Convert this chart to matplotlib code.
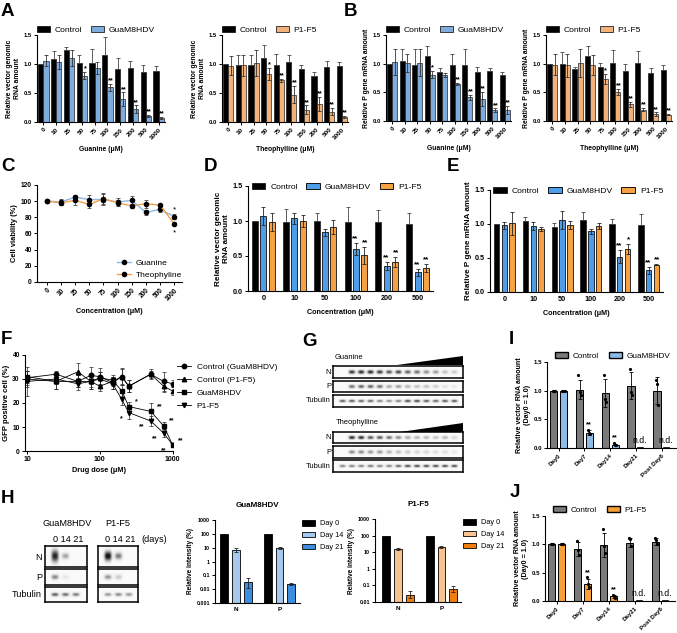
import numpy as np
import matplotlib
matplotlib.use('Agg')
import matplotlib.pyplot as plt
from matplotlib.patches import Patch
from matplotlib.lines import Line2D
from matplotlib.ticker import NullLocator

plt.rcParams['font.family'] = ['Liberation Sans', 'DejaVu Sans']
plt.rcParams['axes.linewidth'] = 0.8
plt.rcParams['xtick.major.width'] = 0.7
plt.rcParams['ytick.major.width'] = 0.7
plt.rcParams['xtick.major.size'] = 2.5
plt.rcParams['ytick.major.size'] = 2.5
plt.rcParams['xtick.major.pad'] = 1.2
plt.rcParams['ytick.major.pad'] = 1.2

# ---------------- data ----------------
conc_ab = ['0', '10', '25', '50', '75', '100', '150', '200', '500', '1000']

# A: vector genomic RNA
a_gua_ctrl = [1.00, 1.08, 1.25, 1.01, 1.02, 1.16, 0.92, 0.93, 0.87, 0.88]
a_gua_ctrl_e = [0.00, 0.14, 0.05, 0.15, 0.24, 0.30, 0.18, 0.12, 0.12, 0.09]
a_gua_trt = [1.06, 1.03, 1.10, 0.80, 0.93, 0.60, 0.39, 0.22, 0.10, 0.07]
a_gua_trt_e = [0.10, 0.12, 0.14, 0.06, 0.10, 0.06, 0.12, 0.07, 0.02, 0.02]
a_gua_stars = ['', '', '', '*', '', '**', '**', '**', '**', '**']

a_theo_ctrl = [1.00, 0.98, 0.99, 1.11, 0.98, 1.04, 0.91, 0.80, 0.95, 0.96]
a_theo_ctrl_e = [0.00, 0.18, 0.16, 0.21, 0.20, 0.12, 0.07, 0.06, 0.10, 0.07]
a_theo_trt = [0.97, 0.98, 1.02, 0.83, 0.72, 0.47, 0.21, 0.31, 0.18, 0.09]
a_theo_trt_e = [0.16, 0.18, 0.22, 0.10, 0.03, 0.15, 0.08, 0.12, 0.06, 0.02]
a_theo_stars = ['', '', '', '*', '**', '**', '**', '**', '**', '**']

# B: P gene mRNA
b_gua_ctrl = [1.00, 1.05, 0.98, 1.14, 0.86, 0.98, 0.98, 0.85, 0.87, 0.80]
b_gua_ctrl_e = [0.00, 0.20, 0.27, 0.16, 0.07, 0.18, 0.27, 0.10, 0.06, 0.05]
b_gua_trt = [1.03, 1.01, 1.02, 0.81, 0.80, 0.64, 0.41, 0.39, 0.19, 0.19]
b_gua_trt_e = [0.22, 0.15, 0.23, 0.06, 0.03, 0.02, 0.05, 0.12, 0.03, 0.07]
b_gua_stars = ['', '', '', '*', '', '**', '**', '**', '**', '**']

b_theo_ctrl = [1.00, 1.00, 0.90, 1.13, 0.95, 1.01, 0.88, 1.01, 0.83, 0.89]
b_theo_ctrl_e = [0.00, 0.20, 0.05, 0.17, 0.07, 0.22, 0.12, 0.21, 0.10, 0.08]
b_theo_trt = [0.98, 0.97, 1.01, 0.98, 0.73, 0.51, 0.29, 0.20, 0.12, 0.11]
b_theo_trt_e = [0.18, 0.20, 0.24, 0.17, 0.09, 0.05, 0.05, 0.03, 0.03, 0.01]
b_theo_stars = ['', '', '', '', '*', '**', '**', '**', '**', '**']

# C: cell viability
c_gua = [100, 99, 105, 102, 102, 99, 101, 86, 90, 81]
c_gua_e = [0, 4, 3, 6, 7, 5, 5, 3, 3, 3]
c_theo = [100, 98, 101, 96, 103, 98, 94, 97, 95, 72]
c_theo_e = [0, 3, 6, 5, 7, 4, 3, 5, 2, 2]
c_gua_stars = [''] * 9 + ['*']
c_theo_stars = [''] * 9 + ['*']

# D / E
conc_de = ['0', '10', '50', '100', '200', '500']
d_ctrl = [1.00, 0.98, 1.00, 0.99, 0.98, 0.96]
d_ctrl_e = [0.00, 0.19, 0.11, 0.21, 0.17, 0.16]
d_gua = [1.07, 1.04, 0.84, 0.60, 0.36, 0.27]
d_gua_e = [0.13, 0.08, 0.05, 0.09, 0.06, 0.05]
d_p1 = [0.99, 1.00, 0.92, 0.51, 0.41, 0.33]
d_p1_e = [0.13, 0.08, 0.10, 0.12, 0.07, 0.06]
d_gua_stars = ['', '', '', '**', '**', '**']
d_p1_stars = ['', '', '', '**', '**', '**']

e_ctrl = [1.00, 1.04, 0.96, 1.06, 1.00, 0.99]
e_ctrl_e = [0.00, 0.06, 0.06, 0.12, 0.08, 0.15]
e_gua = [0.98, 0.97, 1.06, 0.89, 0.52, 0.32]
e_gua_e = [0.05, 0.06, 0.13, 0.04, 0.10, 0.05]
e_p1 = [1.01, 0.93, 0.99, 0.97, 0.63, 0.40]
e_p1_e = [0.17, 0.03, 0.06, 0.05, 0.07, 0.01]
e_gua_stars = ['', '', '', '', '**', '**']
e_p1_stars = ['', '', '', '', '*', '**']

# F: GFP positive cells vs dose
f_dose = [10, 25, 50, 75, 100, 150, 200, 250, 500, 750, 1000]
f_ctrl_gua = [30.5, 32.0, 29.0, 31.5, 31.0, 28.5, 31.0, 27.0, 32.0, 29.0, 28.0]
f_ctrl_gua_e = [3.0, 1.5, 2.5, 3.5, 3.5, 2.5, 3.5, 2.5, 2.0, 4.0, 1.5]
f_ctrl_p1 = [30.0, 29.0, 33.0, 29.0, 27.0, 29.0, 31.0, 27.0, 32.0, 27.0, 25.0]
f_ctrl_p1_e = [3.5, 3.0, 3.5, 3.0, 2.0, 2.0, 3.0, 2.5, 1.5, 2.5, 1.5]
f_gua = [31.0, 29.0, 29.0, 29.0, 30.5, 29.5, 25.0, 18.5, 16.5, 10.5, 2.5]
f_gua_e = [2.5, 3.0, 2.5, 2.5, 2.5, 2.0, 2.5, 2.0, 3.5, 1.5, 1.0]
f_p1 = [29.0, 30.0, 28.0, 29.0, 30.0, 28.0, 21.5, 16.0, 12.5, 7.5, 2.5]
f_p1_e = [6.0, 2.0, 2.5, 3.0, 3.0, 2.0, 2.5, 2.5, 2.0, 1.5, 1.0]
f_gua_stars = [''] * 7 + ['*', '**', '**', '**']
f_p1_stars = [''] * 7 + ['*', '**', '**', '**']

# G: western blot band intensities (13 lanes, mock first)
g_gua_N = [0.0, 0.85, 0.9, 0.9, 0.85, 0.75, 0.8, 0.7, 0.65, 0.55, 0.5, 0.35, 0.3]
g_gua_P = [0.0, 0.65, 0.7, 0.7, 0.65, 0.45, 0.5, 0.4, 0.35, 0.35, 0.3, 0.2, 0.15]
g_gua_T = [0.75, 0.75, 0.7, 0.7, 0.6, 0.55, 0.6, 0.8, 0.8, 0.75, 0.7, 0.75, 0.75]
g_theo_N = [0.0, 0.9, 0.9, 0.75, 0.75, 0.65, 0.55, 0.45, 0.4, 0.4, 0.35, 0.4, 0.25]
g_theo_P = [0.0, 0.55, 0.55, 0.5, 0.5, 0.4, 0.35, 0.3, 0.25, 0.25, 0.2, 0.2, 0.15]
g_theo_T = [0.6, 0.6, 0.6, 0.65, 0.6, 0.6, 0.7, 0.8, 0.8, 0.8, 0.8, 0.8, 0.8]

# H: blots (days 0, 14, 21) and quantification
h_days = '0 14 21'
h_gua_N = [0.9, 0.45, 0.0]
h_gua_P = [0.55, 0.15, 0.0]
h_gua_T = [0.7, 0.65, 0.6]
h_p1_N = [1.0, 0.6, 0.0]
h_p1_P = [0.5, 0.3, 0.0]
h_p1_T = [0.5, 0.55, 0.5]

h_targets = ['N', 'P']
h_day_labels = ['Day 0', 'Day 14', 'Day 21']
hq_gua = {'Day 0': [100, 100], 'Day 14': [6.8, 9.5], 'Day 21': [0.035, 0.022]}
hq_gua_lo = {'Day 0': [0, 0], 'Day 14': [1.8, 2.0], 'Day 21': [0.023, 0.003]}
hq_gua_hi = {'Day 0': [0, 0], 'Day 14': [2.5, 2.5], 'Day 21': [0.03, 0.004]}
hq_p1 = {'Day 0': [100, 100], 'Day 14': [16, 21], 'Day 21': [0.028, 0.06]}
hq_p1_lo = {'Day 0': [0, 0], 'Day 14': [2.5, 3.0], 'Day 21': [0.01, 0.02]}
hq_p1_hi = {'Day 0': [0, 0], 'Day 14': [3.0, 4.0], 'Day 21': [0.015, 0.035]}

# I / J: time course
ij_days = ['Day0', 'Day7', 'Day14', 'Day21', 'Post Day6']
i_ctrl = [1.00, 1.02, 0.96, 1.09, 1.00]
i_ctrl_e = [0.00, 0.17, 0.24, 0.23, 0.24]
i_ctrl_pts = [[1.0, 1.0, 1.0], [1.28, 0.97, 0.93], [1.27, 0.85, 0.80],
              [1.38, 0.97, 0.93], [1.18, 1.12, 0.75]]
i_trt = [1.00, 0.27, 0.06, 0.0, 0.0]
i_trt_e = [0.00, 0.04, 0.015, 0.0, 0.0]
i_trt_pts = [[1.0, 1.0, 1.0], [0.32, 0.27, 0.24], [0.08, 0.06, 0.05],
             [0.0, 0.0, 0.0], [0.0, 0.0, 0.0]]
i_stars = ['', '**', '**', '', '']
i_nd = ['', '', '', 'n.d.', 'n.d.']

j_ctrl = [1.00, 0.92, 0.99, 1.03, 1.05]
j_ctrl_e = [0.00, 0.12, 0.21, 0.08, 0.07]
j_ctrl_pts = [[1.0, 1.0, 1.0], [1.06, 0.90, 0.81], [1.27, 0.97, 0.85],
              [1.11, 1.10, 0.97], [1.12, 1.08, 1.00]]
j_trt = [1.00, 0.30, 0.08, 0.0, 0.0]
j_trt_e = [0.00, 0.09, 0.02, 0.0, 0.0]
j_trt_pts = [[1.0, 1.0, 1.0], [0.42, 0.30, 0.25], [0.10, 0.08, 0.06],
             [0.0, 0.0, 0.0], [0.0, 0.0, 0.0]]
j_stars = ['', '**', '**', '', '']
j_nd = ['', '', '', 'n.d.', 'n.d.']

# ---------------- colours ----------------
BLUE_AB = '#7EACDD'
ORANGE_AB = '#F2B27A'
BLUE_DE = '#4E9DE8'
ORANGE_DE = '#F6A244'
BLUE_C = '#8DB8E8'
ORANGE_C = '#F4A04A'
BLUE_I = '#8EBCEA'
ORANGE_J = '#F7A038'
GRAY = '#7A7A7A'
BLUE_D14, BLUE_D21 = '#A6C9F0', '#3D8EE0'
OR_D14, OR_D21 = '#F9C391', '#F07D0C'

W, H = 677, 633
fig = plt.figure(figsize=(W / 100, H / 100), dpi=100)


def px_axes(l, t, r, b):
    return fig.add_axes([l / W, 1 - b / H, (r - l) / W, (b - t) / H])


def prism(ax):
    ax.spines['top'].set_visible(False)
    ax.spines['right'].set_visible(False)


def letter(x, y, s):
    fig.text(x / W, 1 - y / H, s, fontsize=13.5, fontweight='bold', ha='left', va='top')


def ftext(x, y, s, **kw):
    fig.text(x / W, 1 - y / H, s, **kw)


def ebar(ax, x, y, e, lower=True, lw=0.6, cs=1.3, col='#222222'):
    e = np.asarray(e)
    yerr = [e, e] if lower else [np.zeros_like(e), e]
    ax.errorbar(x, y, yerr=yerr, fmt='none', ecolor=col, elinewidth=lw, capsize=cs, capthick=lw)


def pair_panel(ax, ctrl, ctrl_e, trt, trt_e, stars, col, name, xlab, ylab):
    x = np.arange(len(conc_ab))
    w = 0.4
    ax.bar(x - w / 2, ctrl, w, color='k', edgecolor='k', lw=0.4)
    ebar(ax, x - w / 2, ctrl, ctrl_e, lower=False, col='#444444')
    ax.bar(x + w / 2, trt, w, color=col, edgecolor='#222222', lw=0.5)
    ebar(ax, x + w / 2, trt, trt_e, col='#333333')
    for xi, v, e, s in zip(x, trt, trt_e, stars):
        if s:
            ax.text(xi + w / 2 + 0.05, v + e - 0.01, s, ha='center', va='bottom',
                    fontsize=5.2, fontweight='bold')
    ax.set_xlim(-0.5, len(x) - 0.5)
    ax.set_ylim(0, 1.5)
    ax.set_yticks([0, 0.5, 1.0, 1.5], labels=['0.0', '0.5', '1.0', '1.5'],
                  fontsize=4.2, fontweight='bold')
    ax.set_xticks(x, labels=conc_ab, rotation=45, ha='right', rotation_mode='anchor',
                  fontsize=4.6, fontweight='bold')
    ax.set_xlabel(xlab, fontsize=4.9, fontweight='bold', labelpad=4)
    ax.set_ylabel(ylab, fontsize=4.9, fontweight='bold', labelpad=2, linespacing=1.1)
    prism(ax)
    hd = [Patch(fc='k', ec='k', lw=0.5), Patch(fc=col, ec='#222222', lw=0.6)]
    ax.legend(hd, ['Control', name], ncol=2, loc='lower left', bbox_to_anchor=(0.0, 1.01),
              frameon=False, fontsize=6.1, handlelength=1.5, handleheight=0.7,
              columnspacing=1.0, handletextpad=0.6, borderaxespad=0, borderpad=0)


def triple_panel(ax, ctrl, ctrl_e, gua, gua_e, p1, p1_e, s_gua, s_p1, ylab):
    x = np.arange(len(conc_de))
    w, off = 0.19, 0.27
    ax.bar(x - off, ctrl, w, color='k', edgecolor='k', lw=0.4)
    ebar(ax, x - off, ctrl, ctrl_e, lower=False, col='#444444')
    ax.bar(x, gua, w, color=BLUE_DE, edgecolor='#111111', lw=0.6)
    ebar(ax, x, gua, gua_e)
    ax.bar(x + off, p1, w, color=ORANGE_DE, edgecolor='#111111', lw=0.6)
    ebar(ax, x + off, p1, p1_e)
    for xi in x:
        if s_gua[xi]:
            ax.text(xi - 0.02, gua[xi] + gua_e[xi] + 0.01, s_gua[xi], ha='center', va='bottom',
                    fontsize=5.8, fontweight='bold')
        if s_p1[xi]:
            ax.text(xi + off + 0.02, p1[xi] + p1_e[xi] + 0.01, s_p1[xi], ha='center', va='bottom',
                    fontsize=5.8, fontweight='bold')
    ax.set_xlim(-0.5, len(x) - 0.5)
    ax.set_ylim(0, 1.5)
    ax.set_yticks([0, 0.5, 1.0, 1.5], labels=['0.0', '0.5', '1.0', '1.5'],
                  fontsize=5.2, fontweight='bold')
    ax.set_xticks(x, labels=conc_de, fontsize=5.2, fontweight='bold')
    ax.tick_params(axis='x', length=0, pad=3)
    ax.set_xlabel('Concentration (μM)', fontsize=5.2, fontweight='bold', labelpad=5)
    ax.set_ylabel(ylab, fontsize=5.9, fontweight='bold', labelpad=2, linespacing=1.1)
    prism(ax)
    hd = [Patch(fc='k', ec='k', lw=0.5), Patch(fc=BLUE_DE, ec='#111111', lw=0.7),
          Patch(fc=ORANGE_DE, ec='#111111', lw=0.7)]
    ax.legend(hd, ['Control', 'GuaM8HDV', 'P1-F5'], ncol=3, loc='upper left',
              bbox_to_anchor=(0.02, 1.03), frameon=False, fontsize=6.1, handlelength=1.6,
              handleheight=0.75, columnspacing=1.0, handletextpad=0.6, borderaxespad=0,
              borderpad=0)


def day_panel(ax, ctrl, ctrl_e, ctrl_pts, trt, trt_e, trt_pts, stars, nd, col, name):
    x = np.arange(len(ij_days))
    w, off = 0.28, 0.19
    ax.bar(x - off, ctrl, w, color=GRAY, edgecolor='k', lw=0.7)
    ax.bar(x + off, trt, w, color=col, edgecolor='k', lw=0.7)
    ebar(ax, x - off, ctrl, ctrl_e, lw=0.6, cs=1.5, col='k')
    ebar(ax, x + off, trt, trt_e, lw=0.6, cs=1.5, col='k')
    jit = [-0.04, 0.0, 0.04]
    for xi in x:
        for j, p in enumerate(ctrl_pts[xi]):
            ax.plot(xi - off + jit[j], p, 'o', ms=2.3, color='k', mew=0)
        if not nd[xi]:
            for j, p in enumerate(trt_pts[xi]):
                ax.plot(xi + off + jit[j], p, 'o', ms=2.3, color='k', mew=0)
        else:
            ax.plot([xi + off - 0.1, xi + off + 0.1], [0.005, 0.005], color='k', lw=1.2)
            ax.text(xi + off - 0.05, 0.05, nd[xi], ha='center', va='bottom', fontsize=6.3)
        if stars[xi]:
            ax.text(xi + off, trt[xi] + trt_e[xi] + 0.04, stars[xi], ha='center', va='bottom',
                    fontsize=5.2, fontweight='bold')
    ax.set_xlim(-0.45, len(x) - 0.45)
    ax.set_ylim(0, 1.5)
    ax.set_yticks([0, 0.5, 1.0, 1.5], labels=['0.0', '0.5', '1.0', '1.5'],
                  fontsize=4.4, fontweight='bold')
    ax.set_xticks(x, labels=ij_days, rotation=45, ha='right', rotation_mode='anchor',
                  fontsize=4.4, fontweight='bold')
    ax.set_ylabel('Relative vector RNA amount\n(Day0 = 1.0)', fontsize=5.1, fontweight='bold',
                  labelpad=2, linespacing=1.1)
    prism(ax)
    hd = [Patch(fc=GRAY, ec='k', lw=1.0), Patch(fc=col, ec='k', lw=1.0)]
    ax.legend(hd, ['Control', name], ncol=2, loc='lower left', bbox_to_anchor=(0.06, 1.02),
              frameon=False, fontsize=5.9, handlelength=1.6, handleheight=0.75,
              columnspacing=1.2, handletextpad=0.6, borderaxespad=0, borderpad=0)


def blot(rect, intens, xlim, heights=None, width=0.36):
    ax = px_axes(*rect)
    nx, ny = 240, 40
    xx = np.linspace(xlim[0], xlim[1], nx)
    yy = np.linspace(0, 1, ny)
    img = np.full((ny, nx), 0.04)
    if heights is None:
        heights = [0.17] * len(intens)
    for i, (v, h) in enumerate(zip(intens, heights)):
        gx = np.exp(-np.abs((xx - i) / width) ** 3)
        gy = np.exp(-np.abs((yy - 0.5) / h) ** 2)
        img += v * np.outer(gy, gx)
    ax.imshow(np.clip(img, 0, 1), cmap='Greys', vmin=0, vmax=1.05, aspect='auto',
              extent=(xlim[0], xlim[1], 0, 1), interpolation='bilinear', origin='lower')
    ax.set_xlim(xlim)
    ax.set_ylim(0, 1)
    ax.set_xticks([])
    ax.set_yticks([])
    for s in ax.spines.values():
        s.set_linewidth(1.1)
    return ax


def wedge(rect):
    ax = px_axes(*rect)
    ax.fill([0, 1, 1], [0, 0, 1], color='k', lw=0)
    ax.set_xlim(0, 1)
    ax.set_ylim(0, 1)
    ax.axis('off')


def quant_panel(ax, q, lo, hi, colors, ymin, title):
    x = np.arange(len(h_targets))
    offs = [-0.27, 0.0, 0.27]
    w = 0.18
    for lab, o, c in zip(h_day_labels, offs, colors):
        v = np.asarray(q[lab], dtype=float)
        ax.bar(x + o, v - ymin, w, bottom=ymin, color=c, edgecolor='k', lw=0.6, label=lab)
        if lab != 'Day 0':
            ax.errorbar(x + o, v, yerr=[lo[lab], hi[lab]], fmt='none', ecolor='#222222',
                        elinewidth=0.6, capsize=1.5, capthick=0.6)
    ax.set_yscale('log')
    ax.set_ylim(ymin, 1000)
    ticks = [t for t in [0.001, 0.01, 0.1, 1, 10, 100, 1000] if t >= ymin]
    ax.set_yticks(ticks, labels=['%g' % t for t in ticks], fontsize=3.9, fontweight='bold')
    ax.yaxis.set_minor_locator(NullLocator())
    ax.set_xticks(x, labels=h_targets, fontsize=4.6, fontweight='bold')
    ax.tick_params(axis='x', length=0, pad=3)
    ax.set_ylabel('Relative intensity (%)', fontsize=4.7, fontweight='bold', labelpad=2)
    ax.set_title(title, fontsize=5.8, fontweight='bold', pad=9)
    prism(ax)
    ax.legend(loc='upper left', bbox_to_anchor=(1.02, 1.0), frameon=False, fontsize=5.3,
              handlelength=1.8, handleheight=0.8, labelspacing=0.6, handletextpad=0.7,
              borderaxespad=0, borderpad=0)


# ---------------- A ----------------
letter(1, 3, 'A')
ax = px_axes(37, 35, 165, 122)
pair_panel(ax, a_gua_ctrl, a_gua_ctrl_e, a_gua_trt, a_gua_trt_e, a_gua_stars, BLUE_AB,
           'GuaM8HDV', 'Guanine (μM)', 'Relative vector genomic\nRNA amount')
ax = px_axes(222, 35, 348, 122)
pair_panel(ax, a_theo_ctrl, a_theo_ctrl_e, a_theo_trt, a_theo_trt_e, a_theo_stars, ORANGE_AB,
           'P1-F5', 'Theophylline (μM)', 'Relative vector genomic\nRNA amount')

# ---------------- B ----------------
letter(344, 3, 'B')
ax = px_axes(386, 35, 511, 121)
pair_panel(ax, b_gua_ctrl, b_gua_ctrl_e, b_gua_trt, b_gua_trt_e, b_gua_stars, BLUE_AB,
           'GuaM8HDV', 'Guanine (μM)', 'Relative P gene mRNA amount')
ax = px_axes(546, 35, 672, 121)
pair_panel(ax, b_theo_ctrl, b_theo_ctrl_e, b_theo_trt, b_theo_trt_e, b_theo_stars, ORANGE_AB,
           'P1-F5', 'Theophylline (μM)', 'Relative P gene mRNA amount')

# ---------------- C ----------------
letter(1, 158, 'C')
ax = px_axes(37, 185, 182, 282)
xc = np.arange(len(conc_ab))
ax.errorbar(xc, c_gua, yerr=c_gua_e, color=BLUE_C, lw=1.0, ecolor='#444444', elinewidth=0.6,
            capsize=1.5, capthick=0.6, marker='o', ms=3, mfc='k', mec='k', zorder=3)
ax.errorbar(xc, c_theo, yerr=c_theo_e, color=ORANGE_C, lw=1.0, ecolor='#444444', elinewidth=0.6,
            capsize=1.5, capthick=0.6, marker='o', ms=3, mfc='k', mec='k', zorder=3)
for xi in xc:
    if c_gua_stars[xi]:
        ax.text(xi, c_gua[xi] + c_gua_e[xi] + 1, c_gua_stars[xi], ha='center', va='bottom',
                fontsize=6)
    if c_theo_stars[xi]:
        ax.text(xi, c_theo[xi] - c_theo_e[xi] - 5, c_theo_stars[xi], ha='center', va='top',
                fontsize=6)
ax.set_xlim(-0.7, 9.55)
ax.set_ylim(0, 120)
ax.set_yticks(range(0, 121, 20), labels=[str(v) for v in range(0, 121, 20)], fontsize=4.8,
              fontweight='bold')
ax.set_xticks(xc, labels=conc_ab, rotation=45, ha='right', rotation_mode='anchor',
              fontsize=4.7, fontweight='bold')
ax.set_xlabel('Concentration (μM)', fontsize=5.2, fontweight='bold', labelpad=4)
ax.set_ylabel('Cell viability (%)', fontsize=5.4, fontweight='bold', labelpad=2)
prism(ax)
hd = [Line2D([], [], color=BLUE_C, lw=1.0, marker='o', ms=3, mfc='k', mec='k'),
      Line2D([], [], color=ORANGE_C, lw=1.0, marker='o', ms=3, mfc='k', mec='k')]
ax.legend(hd, ['Guanine', 'Theophyline'], loc='lower left', bbox_to_anchor=(0.55, 0.03),
          frameon=False, fontsize=6, handlelength=1.7, handletextpad=0.6, labelspacing=0.5,
          borderaxespad=0, borderpad=0)

# ---------------- D / E ----------------
letter(204, 158, 'D')
ax = px_axes(248, 186, 433, 291)
triple_panel(ax, d_ctrl, d_ctrl_e, d_gua, d_gua_e, d_p1, d_p1_e, d_gua_stars, d_p1_stars,
             'Relative vector genomic\nRNA amount')
letter(447, 158, 'E')
ax = px_axes(490, 190, 663, 292)
triple_panel(ax, e_ctrl, e_ctrl_e, e_gua, e_gua_e, e_p1, e_p1_e, e_gua_stars, e_p1_stars,
             'Relative P gene mRNA amount')

# ---------------- F ----------------
letter(1, 331, 'F')
ax = px_axes(25, 355, 173, 451)
series_f = [(f_ctrl_gua, f_ctrl_gua_e, 'o', 'Control (GuaM8HDV)'),
            (f_ctrl_p1, f_ctrl_p1_e, '^', 'Control (P1-F5)'),
            (f_gua, f_gua_e, 's', 'GuaM8HDV'),
            (f_p1, f_p1_e, 'v', 'P1-F5')]
hd = []
for vals, errs, mk, lab in series_f:
    ax.errorbar(f_dose, vals, yerr=errs, color='k', lw=0.6, marker=mk, ms=3.2, mfc='k', mec='k',
                ecolor='#222222', elinewidth=0.5, capsize=1.5, capthick=0.5)
    hd.append(Line2D([], [], color='k', lw=0.6, marker=mk, ms=3.2, label=lab))
for d, v, s in zip(f_dose, f_gua, f_gua_stars):
    if s:
        ax.text(d * 1.2, v + 0.5, s, ha='left', va='bottom', fontsize=5, fontweight='bold')
for d, v, s in zip(f_dose, f_p1, f_p1_stars):
    if s:
        ax.text(d / 1.2, v - 1.0, s, ha='right', va='top', fontsize=5, fontweight='bold')
ax.set_xscale('log')
ax.set_xlim(9.4, 1010)
ax.set_ylim(0, 40)
ax.xaxis.set_minor_locator(NullLocator())
ax.set_xticks([10, 100, 1000], labels=['10', '100', '1000'], fontsize=5, fontweight='bold')
ax.set_yticks(range(0, 41, 10), labels=[str(v) for v in range(0, 41, 10)], fontsize=4.8,
              fontweight='bold')
ax.set_xlabel('Drug dose (μM)', fontsize=5.3, fontweight='bold', labelpad=3)
ax.set_ylabel('GFP positive cell (%)', fontsize=5.6, fontweight='bold', labelpad=2)
prism(ax)
ax.legend(handles=hd, loc='upper left', bbox_to_anchor=(1.03, 0.92), frameon=False, fontsize=6,
          handlelength=1.6, handletextpad=0.7, labelspacing=0.62, borderaxespad=0, borderpad=0)

# ---------------- G ----------------
letter(302, 333, 'G')
g_xlim = (-1.0, 12.9)
ftext(335, 357, 'Guanine', fontsize=5.4, va='center')
wedge((397, 356, 463, 365))
blot((333, 366, 463, 378), g_gua_N, g_xlim)
blot((333, 381, 463, 392), g_gua_P, g_xlim)
blot((333, 395, 463, 407), g_gua_T, g_xlim, heights=[0.12] * 13)
ftext(336, 422, 'Theophylline', fontsize=5.4, va='center')
wedge((400, 423, 463, 432))
blot((333, 432, 463, 443), g_theo_N, g_xlim)
blot((333, 446, 463, 458), g_theo_P, g_xlim)
blot((333, 460, 463, 472), g_theo_T, g_xlim, heights=[0.12] * 13)
for yc, lab in [(372, 'N'), (386.5, 'P'), (401, 'Tubulin'),
                (437.5, 'N'), (452, 'P'), (466, 'Tubulin')]:
    ftext(331, yc, lab, fontsize=5.4, ha='right', va='center')

# ---------------- H ----------------
letter(1, 490, 'H')
hx1 = (-0.95, 3.05)
hx2 = (-0.95, 2.86)
blot((45, 546, 87, 567), h_gua_N, hx1, heights=[0.3, 0.15, 0.15])
blot((45, 569, 87, 585), h_gua_P, hx1)
blot((45, 587, 87, 602), h_gua_T, hx1, heights=[0.13] * 3)
blot((98, 546, 138, 567), h_p1_N, hx2, heights=[0.24, 0.17, 0.17])
blot((98, 569, 138, 585), h_p1_P, hx2)
blot((98, 587, 138, 602), h_p1_T, hx2, heights=[0.13] * 3)
ftext(67, 523, 'GuaM8HDV', fontsize=6.6, ha='center', va='center')
ftext(118, 523, 'P1-F5', fontsize=6.6, ha='center', va='center')
ftext(68, 539, h_days, fontsize=6.6, ha='center', va='center')
ftext(120, 539, h_days, fontsize=6.6, ha='center', va='center')
ftext(141, 539, '(days)', fontsize=6.6, va='center')
for yc, lab in [(557, 'N'), (577, 'P'), (594.5, 'Tubulin')]:
    ftext(42, yc, lab, fontsize=6.6, ha='right', va='center')

ax = px_axes(215, 520, 300, 603)
quant_panel(ax, hq_gua, hq_gua_lo, hq_gua_hi, ['k', BLUE_D14, BLUE_D21], 0.001, 'GuaM8HDV')
ax.set_xlim(-0.48, 1.47)
ax = px_axes(375, 519, 461, 602)
quant_panel(ax, hq_p1, hq_p1_lo, hq_p1_hi, ['k', OR_D14, OR_D21], 0.01, 'P1-F5')
ax.set_xlim(-0.53, 1.45)

# ---------------- I / J ----------------
letter(509, 331, 'I')
ax = px_axes(547, 362, 676, 448)
day_panel(ax, i_ctrl, i_ctrl_e, i_ctrl_pts, i_trt, i_trt_e, i_trt_pts, i_stars, i_nd,
          BLUE_I, 'GuaM8HDV')
letter(510, 484, 'J')
ax = px_axes(545, 516, 675, 601)
day_panel(ax, j_ctrl, j_ctrl_e, j_ctrl_pts, j_trt, j_trt_e, j_trt_pts, j_stars, j_nd,
          ORANGE_J, 'P1-F5')

fig.savefig('out.png', dpi=100)
